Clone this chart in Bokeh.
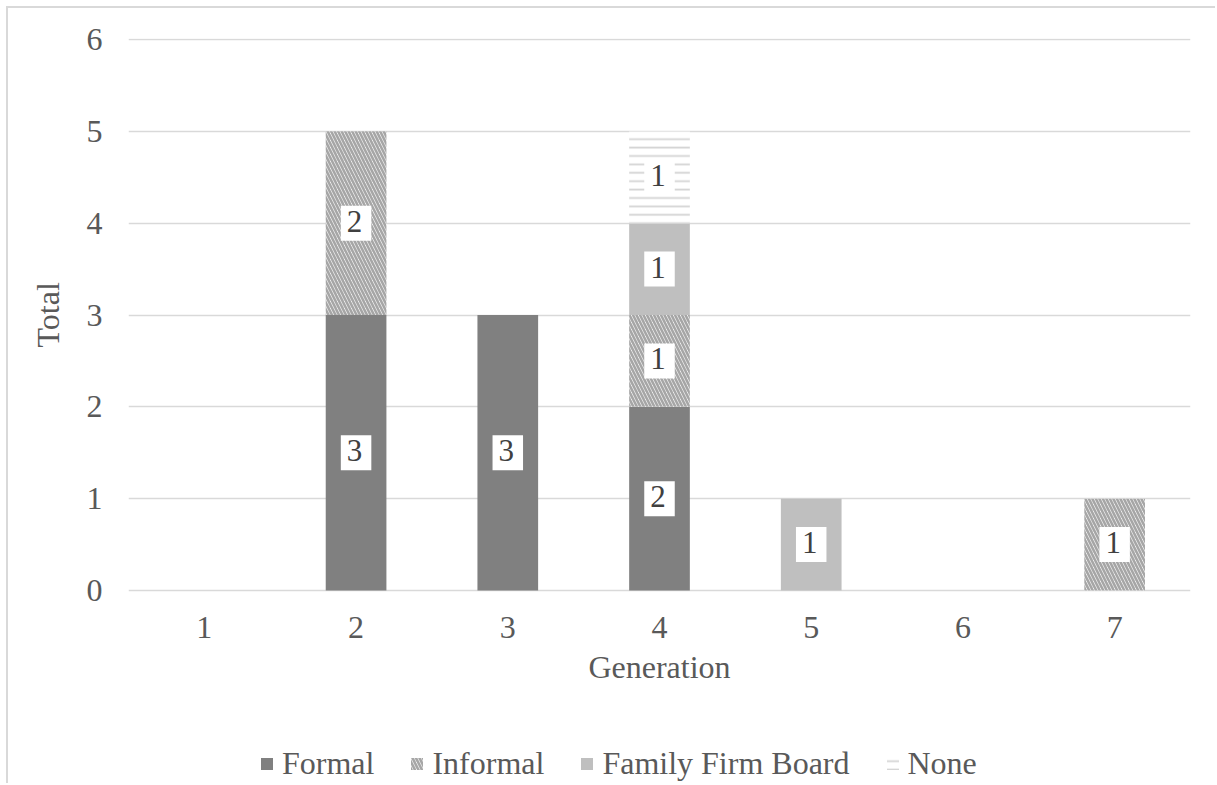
from bokeh.plotting import figure
from bokeh.models import (ColumnDataSource, FactorRange, Range1d, FixedTicker,
                          Legend, LegendItem, Title)
from bokeh.core.properties import value
from bokeh.embed import file_html
from bokeh.resources import INLINE

# Board type counts per family-firm generation
generations = ["1", "2", "3", "4", "5", "6", "7"]
formal = [0, 3, 3, 2, 0, 0, 0]
informal = [0, 2, 0, 1, 0, 0, 1]
family_board = [0, 0, 0, 1, 1, 0, 0]
none_ = [0, 0, 0, 1, 0, 0, 0]

series_names = ["Formal", "Informal", "Family Firm Board", "None"]
series_keys = ["formal", "informal", "family_board", "none"]
y_ticks = [0, 1, 2, 3, 4, 5, 6]

FONT = "Liberation Serif"
FONT_SIZE = "32px"
TEXT_GREY = "#595959"
GRID_GREY = "#d9d9d9"

source = ColumnDataSource(dict(gen=generations, formal=formal, informal=informal,
                               family_board=family_board, none=none_))

# The frame runs below zero so the category axis, its title and the legend
# all sit inside it; only ticks 0..6 get labels and gridlines.
p = figure(x_range=FactorRange(*generations), y_range=Range1d(-2.123, 6.011),
           width=1209, height=777, output_backend="svg", toolbar_location=None,
           min_border_left=120, min_border_right=27, min_border_top=30,
           min_border_bottom=0, outline_line_color=None,
           background_fill_color="white", border_fill_color="white")

renderers = p.vbar_stack(
    series_keys, x="gen", width=0.4, source=source,
    fill_color=["#808080", "white", "#bfbfbf", "white"],
    line_color=None,
    hatch_pattern=[" ", "left_diagonal_line", " ", "horizontal_line"],
    hatch_color=["#808080", "#a6a6a6", "#bfbfbf", "#d4d4d4"],
    hatch_scale=[6, 7, 6, 8.4],
    hatch_weight=[1, 2.6, 1, 1.8],
)

# Segment value labels in white boxes, centred on each stacked segment
lx, ly, lt = [], [], []
series_vals = [formal, informal, family_board, none_]
for i, g in enumerate(generations):
    base = 0
    for vals in series_vals:
        v = vals[i]
        if v:
            lx.append(g)
            ly.append(base + v / 2)
            lt.append(str(v))
        base += v
p.text(x=lx, y=ly, text=lt, text_align="center", text_baseline="middle",
       text_font=value(FONT), text_font_size="31px", text_color="#404040",
       background_fill_color="white", padding=[6, 9, 5, 9])

# Axes
p.yaxis.ticker = FixedTicker(ticks=y_ticks)
for ax in (p.xaxis[0], p.yaxis[0]):
    ax.axis_line_color = None
    ax.major_tick_line_color = None
    ax.minor_tick_line_color = None
    ax.major_label_text_font = FONT
    ax.major_label_text_font_size = FONT_SIZE
    ax.major_label_text_color = TEXT_GREY
    ax.axis_label_text_font = FONT
    ax.axis_label_text_font_size = FONT_SIZE
    ax.axis_label_text_color = TEXT_GREY
    ax.axis_label_text_font_style = "normal"
p.xaxis.fixed_location = 0
p.xaxis.axis_label = "Generation"
p.xaxis.major_label_standoff = 20
p.xaxis.axis_label_standoff = 8
p.yaxis.major_label_standoff = 20

# Vertical "Total" title, placed alongside the 0..6 span
p.add_layout(Title(text="Total", align="left", offset=438, standoff=36,
                   text_font=FONT, text_font_size=FONT_SIZE,
                   text_color=TEXT_GREY, text_font_style="normal"), "left")

p.xgrid.grid_line_color = None
p.ygrid.grid_line_color = GRID_GREY
p.ygrid.grid_line_width = 1.5

# Horizontal legend under the axis title
legend = Legend(
    items=[LegendItem(label=n, renderers=[r]) for n, r in zip(series_names, renderers)],
    orientation="horizontal", location=(131, 3),
    glyph_width=15, glyph_height=15, label_standoff=8, spacing=35,
    padding=0, margin=0, border_line_color=None, background_fill_alpha=0,
    label_text_font=FONT, label_text_font_size=FONT_SIZE, label_text_color=TEXT_GREY,
)
p.add_layout(legend, "center")

# Light chart-area border along the top and left edges
p.styles = {"border-top": "2px solid #d9d9d9", "border-left": "2px solid #d9d9d9",
            "margin": "6px 0 0 6px"}

open("out.html", "w").write(file_html(p, INLINE))
